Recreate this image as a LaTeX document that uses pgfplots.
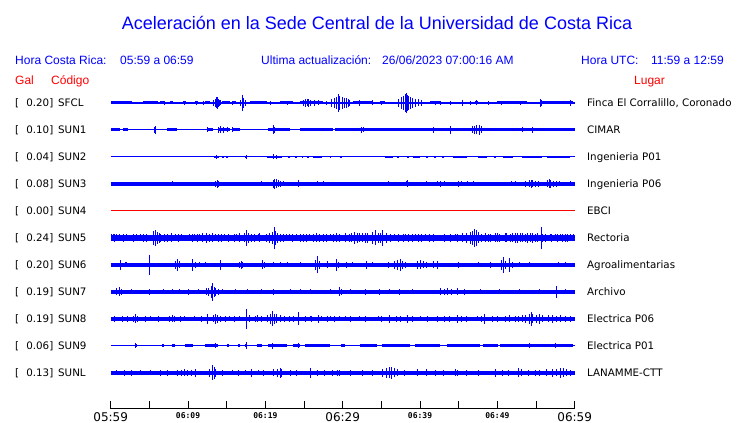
\documentclass[border=0pt]{standalone}
\usepackage{fontspec}
\setmainfont{Liberation Sans}
\newfontfamily\dejavu{DejaVu Sans}
\newfontfamily\dejamono{DejaVu Sans Mono}
\usepackage{pgfplots}
\usepackage{pgfplotstable}
\pgfplotsset{compat=1.18}

% spikes: t = minutes after 05:59, a = half amplitude (px)
\pgfplotstableread{
t a
6.9 2
9.5 2
11.1 2
12.0 2
13.23 3
13.49 4
13.62 5.5
13.75 6
13.88 4
14.01 3
14.26 2.5
15.8 2
16.72 3
16.98 8
17.11 5
17.37 3
20.6 2
22.9 2
24.87 3
25.13 4
25.39 3.5
25.64 4
25.90 3
26.29 3
26.81 2.5
27.9 2
28.49 4
28.88 5
29.14 6
29.40 8
29.52 9
29.65 7
29.91 6
30.17 5
30.43 5
30.69 4
30.94 3
32.23 3
33.9 2.5
35.0 2
37.28 4
37.54 6
37.80 7
38.06 9
38.19 10
38.32 8
38.57 7
38.83 6
39.09 5
39.35 4
39.74 3.5
40.13 3
41.94 2
42.59 2
43.88 2
45.44 3
46.47 2
47.3 2.5
48.8 2
50.5 2
53.0 2
55.52 4
55.65 3
59.40 3
}\spkSFCL
\pgfplotstableread{
t w
1.37 1.37
5.15 0.97
6.70 0.33
7.85 0.20
9.55 0.20
11.10 0.20
12.50 0.33
14.90 0.52
16.00 0.20
19.10 1.10
22.70 0.84
26.00 1.50
32.60 1.30
35.10 0.33
41.90 0.65
47.30 0.20
51.90 1.94
57.80 2.00
}\blkSFCL

\pgfplotstableread{
t a
5.60 3
5.73 4
12.58 2.5
13.88 3
14.26 3.5
14.65 3
15.04 2.5
15.80 2.5
20.99 4.5
21.24 3
32.49 3
32.75 2.5
41.80 3
43.88 3.7
46.73 3.5
46.98 4
47.24 4.5
47.63 5
47.90 3.5
53.20 2.5
54.60 3
}\spkSUNa
\pgfplotstableread{
t w
0.60 0.60
1.90 0.30
7.90 0.65
12.90 0.33
14.65 0.78
16.30 0.45
21.75 1.44
26.60 2.10
44.50 15.50
}\blkSUNa

\pgfplotstableread{
t a
13.62 2
17.50 2
20.99 2.5
21.50 2
}\spkSUNb
\pgfplotstableread{
t w
13.70 0.30
14.50 0.10
15.05 0.10
17.50 0.12
21.20 1.00
23.10 0.12
23.90 0.12
24.80 0.12
25.50 0.12
26.75 0.55
28.40 0.10
29.80 0.12
36.00 0.50
37.15 0.12
38.44 0.15
39.55 0.45
40.90 0.12
41.94 0.12
43.00 0.12
45.20 0.90
48.10 0.60
49.70 0.12
51.35 0.65
54.50 1.30
57.90 1.50
}\blkSUNb

\pgfplotstableread{
t a
8.05 2.5
13.49 3
13.75 4
14.00 3
19.56 2.5
20.99 4
21.24 5
21.50 4.5
21.76 3.5
22.00 3
22.40 2.5
23.05 2
24.22 3.5
26.68 2.5
27.58 2.5
35.86 2.5
38.19 2.5
38.44 3.5
40.90 2.5
42.20 2.5
42.70 3
43.20 2.5
44.92 3
45.30 2.5
46.20 2.5
46.85 2.5
51.80 2.5
52.40 2.5
53.70 3
54.10 3.5
54.35 4
54.60 3.5
54.90 3
55.30 3
56.42 3.5
56.70 4.5
56.90 4
57.20 3
57.60 3
58.00 2.5
59.40 2.5
}\spkSUNc

\pgfplotstableread{
t a
0.10 3.5
0.30 3.5
0.50 4
0.80 3.5
1.20 3.5
1.60 4
2.00 3.5
2.50 3
2.90 4
3.30 3.5
3.80 3.5
4.20 4
4.60 4
5.47 7
5.73 8
5.99 6
6.25 5
6.50 4
7.00 4
7.40 4
7.90 4.5
8.44 3.5
8.80 4
9.20 3.5
9.60 3
10.25 3.5
10.60 4
10.90 3.5
11.20 4
11.50 3.5
11.90 4.5
12.45 5
12.80 4
13.10 4.5
13.49 3.5
13.90 4
14.30 4
14.78 3.5
15.20 4
15.70 3
16.00 4
16.30 3.5
16.70 4.5
17.24 4.5
17.62 8
17.88 5
18.27 4
18.60 4
19.05 3.5
19.30 4.5
19.56 3
20.10 4
20.47 5
20.86 6
21.12 11
21.37 7
21.63 5
22.00 4
22.30 4
22.70 3.5
23.18 3.5
23.50 4
24.00 3.5
24.48 4
24.90 4
25.30 4
25.77 3.5
26.20 4
26.60 4.5
27.06 4
27.50 4
27.90 4
28.36 3.5
28.80 4
29.20 4.5
29.65 4
30.30 4.5
30.94 4
31.20 4.5
31.59 6
31.90 5
32.23 4.5
32.60 4.5
33.00 5
33.27 5
33.79 6
34.18 7.5
34.57 5
34.90 5
35.21 8
35.60 5
36.20 4
36.76 3.5
37.20 4
37.80 4
38.06 3.5
38.50 4
39.00 4
39.35 3.5
39.80 4
40.20 4
40.65 3.5
41.20 4
41.80 4
42.59 3
43.20 4
43.90 4
44.53 3.5
44.90 4
45.44 4.5
45.95 5
46.47 6
46.73 7
46.98 9
47.24 8
47.50 5.5
48.00 4
48.50 4.5
48.80 4
49.05 4
49.70 4.5
50.00 4.5
50.34 4
50.99 4.5
51.20 4.5
51.64 4
52.00 4.5
52.29 5
52.60 5
52.93 4.5
53.20 4.5
53.58 4
53.90 5
54.22 4.5
54.50 5
54.87 4
55.20 4.5
55.65 11
55.90 4
56.16 4
56.81 3.5
57.00 4
57.46 3.5
57.80 4
58.10 3.5
58.40 4
58.75 4
59.10 4
59.40 3.5
59.80 3.5
}\spkSUNe

\pgfplotstableread{
t a
1.33 5
1.85 2.5
2.10 2.5
5.08 10
8.44 4
8.70 6
8.96 3.5
10.64 6
11.00 3
11.50 2.5
12.20 2.5
14.26 5
16.60 3
16.85 4
17.10 3
19.69 4.5
19.95 3
20.99 2.5
21.90 2.5
22.90 2.5
24.50 2.5
26.42 5
26.68 8.5
26.94 4
27.97 3.5
29.26 6
29.50 3
30.55 3
31.33 2.5
33.14 4
33.80 2.5
35.86 3
36.76 4
37.15 5
37.41 6
37.70 4
38.06 3
39.61 4
40.00 4.5
40.40 3.5
40.90 3
41.70 3.5
42.20 4
44.92 3
47.50 2.5
49.05 3
50.50 5
50.73 8
51.00 4
51.51 7
51.90 3
52.90 2.5
54.20 2.5
57.90 2.5
58.75 2.5
}\spkSUNf

\pgfplotstableread{
t a
0.81 3.5
1.20 4.5
1.46 3
2.75 2.5
5.08 3
6.80 2.5
8.05 2.5
8.96 2.5
10.00 3
11.30 2.5
12.45 3.5
12.70 4
12.97 6
13.10 9
13.36 5
13.60 4
14.00 3
14.40 2.5
16.20 2.5
17.75 2.5
19.56 2.5
20.99 3
23.30 2.5
24.50 2.5
25.80 2.5
28.40 2.5
29.65 4.5
29.90 3
31.00 2.5
32.90 3
34.80 3
36.10 2.5
37.40 3
39.00 2.5
42.60 3.5
43.10 3
43.60 3.5
44.10 3
44.90 3.5
45.80 3
47.76 2.5
50.30 2.5
52.90 2.5
55.50 2.5
57.59 6
58.75 2.5
}\spkSUNg

\pgfplotstableread{
t a
0.50 3
1.50 3
2.20 2.8
3.00 3
3.27 4.5
3.53 3
4.50 2.8
5.10 2.5
6.20 2.8
7.66 3
8.05 3.5
8.31 3
9.00 2.8
9.60 2.5
10.90 2.5
11.80 3
12.58 5
13.23 3.5
13.49 5
13.75 4
14.14 3
14.80 3
15.40 2.5
16.00 3
16.70 2.5
17.62 10
18.00 3.5
18.66 3
19.00 3.5
19.56 3
20.34 3.5
20.60 5
20.86 7.5
21.12 5
21.50 4.5
22.00 3.5
22.50 3.2
23.18 3
23.70 3
24.22 6.5
25.13 3
25.80 2.5
26.00 3
26.81 4
27.30 2.5
28.00 3
28.40 2.5
29.00 3
29.65 2.5
30.30 2.5
31.00 3
32.20 2.5
33.00 3
34.60 2.5
35.00 3
36.11 4
36.90 3
37.50 3
38.44 4
39.00 3
40.00 2.5
41.00 3
42.20 3
43.20 3
43.80 3
44.79 4
45.40 3
46.00 3
47.40 2.5
47.90 3
48.40 5
49.40 3
50.00 3
51.00 3
51.60 3.5
52.30 3
52.70 3
53.20 3.5
53.70 4
54.10 5
54.35 7
54.60 4.5
55.10 4
55.50 5
55.90 3.5
56.60 3.5
57.10 4
57.60 3
58.10 3.5
58.75 3
59.40 3
}\spkSUNh

\pgfplotstableread{
t a
3.27 2.5
13.60 2.5
17.50 3.5
20.86 3
24.22 2.5
54.20 2.5
57.50 2.5
}\spkSUNi
\pgfplotstableread{
t w
3.28 0.15
6.70 0.10
8.10 0.20
10.10 0.50
13.05 0.84
15.15 0.10
16.60 0.10
17.50 0.12
19.25 0.35
21.55 1.25
24.05 0.45
26.75 1.65
30.00 0.25
33.30 1.10
36.90 1.80
41.00 1.60
45.65 2.15
49.10 1.00
55.05 4.75
}\blkSUNi

\pgfplotstableread{
t a
0.80 2.5
1.80 3
2.70 3
3.80 2.5
5.10 2.5
6.50 3
7.30 3
8.70 3
9.10 3
9.50 3.5
9.90 3
10.50 3
11.03 4
12.84 4
13.10 7.5
13.36 6
13.60 4
14.40 3
15.80 2.5
16.50 3
17.40 2.5
18.27 4
19.05 2.5
19.80 3
20.99 3.5
21.63 4
21.90 5
22.15 4
23.20 3
24.09 3
25.90 5
26.80 3
27.70 3
28.70 3
29.30 3
29.65 3
31.00 3
32.50 3
33.80 3
35.21 4
35.60 5
36.00 5.5
36.37 6
36.76 4.5
37.15 3.5
38.00 3
39.61 3.5
40.90 3.5
42.00 3
43.00 3
44.53 3.5
44.90 3
46.00 3
47.50 3
49.70 4
50.70 3
51.40 3
52.67 4.5
53.10 3.5
54.00 3
54.90 3
55.50 3
56.40 3.5
57.10 4
57.60 3.5
58.10 5
58.50 4.5
58.90 3.5
59.50 3
}\spkSUNL

% #1 trace height, #2 band width, #3 spike table
\newcommand{\trace}[3]{%
  \addplot[blue, line width=#2, forget plot] coordinates {(0,#1) (60,#1)};
  \addplot[draw=none, forget plot, error bars/.cd, y dir=both, y explicit,
    error mark=none, error bar style={blue, line width=1pt}]
    table[x=t, y expr=#1, y error=a] {#3};
}
% #1 trace height, #2 block thickness, #3 block table (centre, half width)
\newcommand{\blocks}[3]{%
  \addplot[draw=none, forget plot, error bars/.cd, x dir=both, x explicit,
    error mark=none, error bar style={blue, line width=#2}]
    table[x=t, y expr=#1, x error=w] {#3};
}
\newcommand{\bigtick}[1]{{\dejavu\fontsize{12}{12}\selectfont #1}}
\newcommand{\smtick}[1]{{\dejamono\bfseries\fontsize{8}{8}\selectfont #1}}
\newcommand{\station}[4]{%
  \node[anchor=base west] at (15,#1+4) {[};
  \node[anchor=base east] at (53.5,#1+4) {#2]};
  \node[anchor=base west] at (58,#1+4) {#3};
  \node[anchor=base west] at (587,#1+4) {#4};
}

\begin{document}
\begin{tikzpicture}
\fill[white] (0,0) rectangle (740pt,423pt);
\path[use as bounding box] (0,0) rectangle (740pt,423pt);

\begin{scope}[shift={(0pt,423pt)}, x=1pt, y=-1pt, every node/.style={inner sep=0pt}]
  \node[anchor=base, blue, font=\fontsize{18}{20}\selectfont] at (377,29.3)
    {Aceleración en la Sede Central de la Universidad de Costa Rica};
  \begin{scope}[blue, font=\fontsize{12}{14}\selectfont]
    \node[anchor=base west] at (15,65) {Hora Costa Rica:};
    \node[anchor=base west] at (120,65) {05:59 a 06:59};
    \node[anchor=base west] at (261,65) {Ultima actualización:};
    \node[anchor=base west] at (382,65) {26/06/2023 07:00:16 AM};
    \node[anchor=base west] at (581,65) {Hora UTC:};
    \node[anchor=base west] at (651,65) {11:59 a 12:59};
  \end{scope}
  \begin{scope}[red, font=\fontsize{12}{14}\selectfont]
    \node[anchor=base west] at (15,84.3) {Gal};
    \node[anchor=base west] at (51,84.3) {Código};
    \node[anchor=base west] at (634,84.3) {Lugar};
  \end{scope}
  \begin{scope}[font=\dejavu\fontsize{10.3}{12}\selectfont]
    \station{103}{0.20}{SFCL}{Finca El Corralillo, Coronado}
    \station{130}{0.10}{SUN1}{CIMAR}
    \station{157}{0.04}{SUN2}{Ingenieria P01}
    \station{184}{0.08}{SUN3}{Ingenieria P06}
    \station{211}{0.00}{SUN4}{EBCI}
    \station{238}{0.24}{SUN5}{Rectoria}
    \station{265}{0.20}{SUN6}{Agroalimentarias}
    \station{292}{0.19}{SUN7}{Archivo}
    \station{319}{0.19}{SUN8}{Electrica P06}
    \station{346}{0.06}{SUN9}{Electrica P01}
    \station{373}{0.13}{SUNL}{LANAMME-CTT}
  \end{scope}
\end{scope}

\begin{axis}[
  at={(110.7pt,14pt)}, anchor=south west,
  scale only axis, width=464pt, height=409pt,
  xmin=0, xmax=60, ymin=0, ymax=409,
  clip=false,
  axis x line*=bottom, axis y line=none,
  x axis line style={black, line width=1pt},
  xtick={0,5,...,60},
  xticklabels={\bigtick{05:59},{},\smtick{06:09},{},\smtick{06:19},{},\bigtick{06:29},{},\smtick{06:39},{},\smtick{06:49},{},\bigtick{06:59}},
  tick align=inside, major tick length=8pt,
  tick style={black, line width=1pt},
  xticklabel style={anchor=north, inner sep=0pt, yshift=-3pt},
  ytick=\empty,
]
% SFCL
\blocks{306}{3pt}{\blkSFCL}
\trace{306}{2pt}{\spkSFCL}
% SUN1
\blocks{279}{3pt}{\blkSUNa}
\trace{279}{1pt}{\spkSUNa}
% SUN2
\blocks{252}{2.5pt}{\blkSUNb}
\trace{252}{1pt}{\spkSUNb}
% SUN3
\trace{225}{3.5pt}{\spkSUNc}
% SUN4
\addplot[red, line width=1pt] coordinates {(0,198) (60,198)};
% SUN5
\trace{171}{6pt}{\spkSUNe}
% SUN6
\trace{144}{4pt}{\spkSUNf}
% SUN7
\trace{117}{3.5pt}{\spkSUNg}
% SUN8
\trace{90}{4.2pt}{\spkSUNh}
% SUN9
\blocks{63}{3pt}{\blkSUNi}
\trace{63}{1pt}{\spkSUNi}
% SUNL
\trace{36}{4.5pt}{\spkSUNL}
\end{axis}
\end{tikzpicture}
\end{document}
